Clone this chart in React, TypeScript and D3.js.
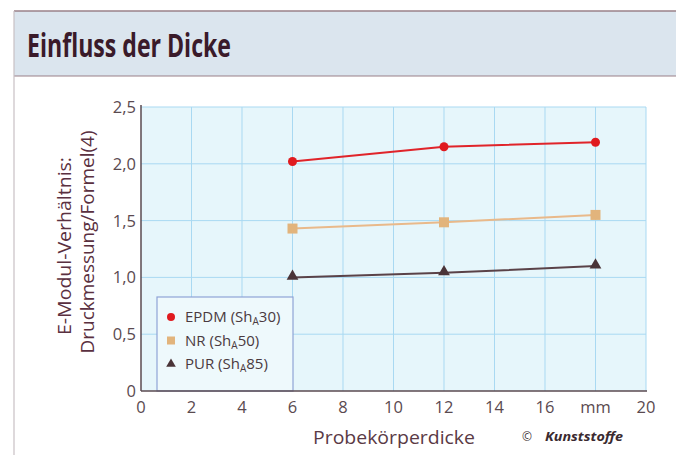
import React from "react";
import * as d3 from "d3";

const xTicks = [0, 2, 4, 6, 8, 10, 12, 14, 16, 18, 20];
const xTickLabels = ["0", "2", "4", "6", "8", "10", "12", "14", "16", "mm", "20"];
const yTicks = [0, 0.5, 1.0, 1.5, 2.0, 2.5];
const yTickLabels = ["0", "0,5", "1,0", "1,5", "2,0", "2,5"];
const thickness = [6, 12, 18];
const epdm = [2.02, 2.15, 2.19];
const nr = [1.43, 1.485, 1.55];
const pur = [1.0, 1.04, 1.1];

const W = 676, H = 463;
const left = 141, right = 646, top = 107, bottom = 391;
const FONT = "'Open Sans', 'DejaVu Sans', sans-serif";

export default function App() {
  const x = d3.scaleLinear().domain([0, 20]).range([left, right]);
  const y = d3.scaleLinear().domain([0, 2.5]).range([bottom, top]);
  const line = d3.line<number>().x((_, i) => x(thickness[i])).y((d) => y(d));
  const series = [
    { name: "EPDM", sub: "30", vals: epdm, color: "#e01a1f", line: "#e0242a", shape: "circle", tl: 101 },
    { name: "NR", sub: "50", vals: nr, color: "#e2b47c", line: "#e9b98a", shape: "square", tl: 75 },
    { name: "PUR", sub: "85", vals: pur, color: "#4a3438", line: "#5a4248", shape: "triangle", tl: 87 },
  ];
  const tri = d3.symbol().type(d3.symbolTriangle).size(60)();
  return (
    <svg width={W} height={H} style={{ position: "absolute", left: 0, top: 0, background: "#fff" }}>
      <rect x={0} y={0} width={W} height={H} fill="#ffffff" />
      {/* header */}
      <rect x={14} y={11} width={W - 14} height={65} fill="#dbe5ee" />
      <line x1={14} x2={W} y1={11} y2={11} stroke="#9a8088" strokeWidth={1.5} />
      <line x1={14} x2={W} y1={76} y2={76} stroke="#9a8088" strokeWidth={1.2} />
      <line x1={14} x2={14} y1={11} y2={455} stroke="#c8c0c4" strokeWidth={1.2} />
      <text x={27} y={57} fontFamily={FONT} fontWeight="bold" fontSize={33} fill="#3a1a2a"
        textLength={204} lengthAdjust="spacingAndGlyphs">
        Einfluss der Dicke
      </text>
      {/* plot area */}
      <rect x={left} y={top} width={right - left} height={bottom - top} fill="#e6f6fb" />
      {xTicks.slice(1).map((t) => (
        <line key={"gx" + t} x1={x(t)} x2={x(t)} y1={top} y2={bottom} stroke="#a9d9f2" strokeWidth={1} />
      ))}
      {yTicks.slice(1).map((t) => (
        <line key={"gy" + t} x1={left} x2={right} y1={y(t)} y2={y(t)} stroke="#a9d9f2" strokeWidth={1} />
      ))}
      {/* legend */}
      <rect x={157} y={297} width={136} height={bottom - 297} fill="#eef9fc" stroke="#8fa3d6" strokeWidth={1.2} />
      {series.map((s, i) => {
        const ly = 317 + i * 23.5;
        return (
          <g key={s.name}>
            {s.shape === "circle" && <circle cx={171} cy={ly} r={4} fill={s.color} />}
            {s.shape === "square" && <rect x={167} y={ly - 4} width={8} height={8} fill={s.color} />}
            {s.shape === "triangle" && <path d={d3.symbol().type(d3.symbolTriangle).size(40)()!} transform={`translate(171,${ly})`} fill={s.color} />}
            <text x={185} y={ly + 5} fontFamily={FONT} fontSize={15} fill="#4a3a40">
              {s.name} (Sh<tspan fontSize={10} dy={3}>A</tspan><tspan dy={-3}>{s.sub})</tspan>
            </text>
          </g>
        );
      })}
      {/* axes */}
      <line x1={left} x2={left} y1={top - 2} y2={bottom} stroke="#5a4a50" strokeWidth={1.5} />
      <line x1={left} x2={right + 1} y1={bottom} y2={bottom} stroke="#5a4a50" strokeWidth={1.5} />
      {yTicks.map((t, i) => (
        <text key={"yl" + t} x={136} y={y(t) + 6} textAnchor="end" fontFamily={FONT} fontSize={16.5} fill="#5a4a50">
          {yTickLabels[i]}
        </text>
      ))}
      {xTicks.map((t, i) => (
        <text key={"xl" + t} x={x(t)} y={413} textAnchor="middle" fontFamily={FONT} fontSize={16.5} fill="#5a4a50">
          {xTickLabels[i]}
        </text>
      ))}
      <text x={394} y={444} textAnchor="middle" fontFamily={FONT} fontSize={18} fill="#5a3a45"
        textLength={162} lengthAdjust="spacingAndGlyphs">
        Probekörperdicke
      </text>
      <text x={522} y={441} fontFamily={FONT} fontSize={12} fill="#4a3a40">©</text>
      <text x={545} y={441} fontFamily={FONT} fontSize={13} fontWeight="bold" fontStyle="italic" fill="#3a2a30"
        textLength={78} lengthAdjust="spacingAndGlyphs">
        Kunststoffe
      </text>
      <g transform="translate(71,246) rotate(-90)">
        <text x={0} y={0} textAnchor="middle" fontFamily={FONT} fontSize={18} fill="#5a3040"
          textLength={178} lengthAdjust="spacingAndGlyphs">
          E-Modul-Verhältnis:
        </text>
      </g>
      <g transform="translate(94,242) rotate(-90)">
        <text x={0} y={0} textAnchor="middle" fontFamily={FONT} fontSize={18} fill="#5a3040"
          textLength={223} lengthAdjust="spacingAndGlyphs">
          Druckmessung/Formel(4)
        </text>
      </g>
      {/* series */}
      {series.map((s) => (
        <g key={s.name}>
          <path d={line(s.vals)!} fill="none" stroke={s.line} strokeWidth={2} />
          {s.vals.map((v, i) =>
            s.shape === "circle" ? (
              <circle key={i} cx={x(thickness[i])} cy={y(v)} r={4.5} fill={s.color} />
            ) : s.shape === "square" ? (
              <rect key={i} x={x(thickness[i]) - 5} y={y(v) - 5} width={10} height={10} fill={s.color} />
            ) : (
              <path key={i} d={tri!} transform={`translate(${x(thickness[i])},${y(v) - 1})`} fill={s.color} />
            )
          )}
        </g>
      ))}
    </svg>
  );
}
